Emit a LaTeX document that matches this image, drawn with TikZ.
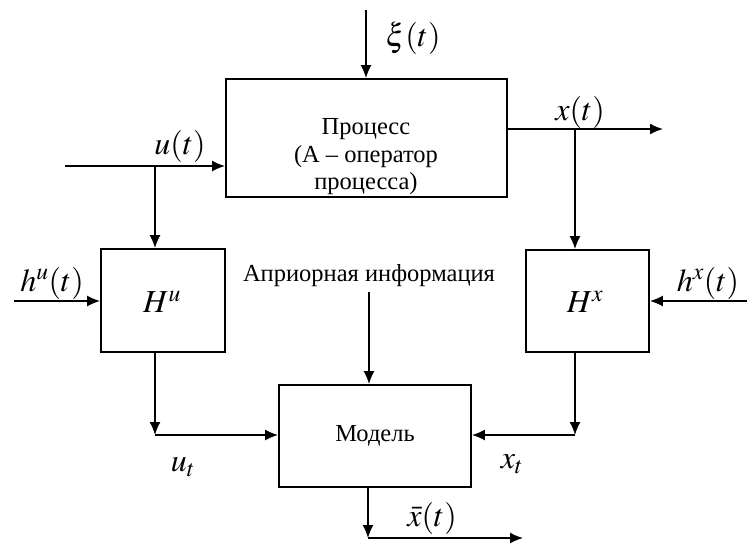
\documentclass[tikz,border=0pt]{standalone}
\usepackage{mathptmx}
\usepackage[no-math]{fontspec}
\setmainfont{Liberation Serif}
\usetikzlibrary{arrows.meta}
\begin{document}
\begin{tikzpicture}[x=1pt,y=-1pt,
  blk/.style={draw,line width=1.8pt,inner sep=0pt},
  conn/.style={line width=1.6pt,-{Latex[length=13pt,width=11pt]}},
  wire/.style={line width=1.6pt},
  txt/.style={font=\fontsize{24.5}{27.5}\selectfont,inner sep=0pt,align=center},
  lbl/.style={font=\fontsize{32}{36}\selectfont,inner sep=0pt}]
\useasboundingbox (0,0) rectangle (747,547);
\fill[white] (0,0) rectangle (747,547);
% blocks
\node[blk,minimum width=281pt,minimum height=118pt] (proc) at (366.5,138) {};
\node[txt] (proctxt) at (366,157) {Процесс\\(А – оператор\\процесса)};
\node[blk,minimum width=124pt,minimum height=103pt] (Hu) at (163,300.5) {};
\node[lbl] (Hutxt) at (162,302) {$H^{u}$};
\node[blk,minimum width=123pt,minimum height=102pt] (Hx) at (587.5,301) {};
\node[lbl] (Hxtxt) at (585,302) {$H^{x}$};
\node[blk,minimum width=192pt,minimum height=102pt] (model) at (375,436) {};
\node[txt] (modeltxt) at (375,436) {Модель};
\node[txt] (apr) at (369,276) {Априорная информация};
% coordinates
\coordinate (xis) at (366,10);
\coordinate (uin) at (65,166);
\coordinate (ub) at (155,166);
\coordinate (xb) at (575,129);
\coordinate (xout) at (663,129);
\coordinate (hus) at (14,301);
\coordinate (hxs) at (747,301);
\coordinate (aprs) at (369,292);
\coordinate (uc) at (155,435);
\coordinate (xc) at (575,435);
\coordinate (bc) at (368,538);
\coordinate (bout) at (523,538);
% connectors
\draw[conn] (xis) -- (xis |- proc.north);
\draw[conn] (uin) -- (uin -| proc.west);
\draw[conn] (ub) -- (ub |- Hu.north);
\draw[wire] (xb -| proc.east) -- (xb);
\draw[conn] (xb) -- (xout);
\draw[conn] (xb) -- (xb |- Hx.north);
\draw[conn] (hus) -- (hus -| Hu.west);
\draw[conn] (hxs) -- (hxs -| Hx.east);
\draw[conn] (aprs) -- (aprs |- model.north);
\draw[conn] (uc |- Hu.south) -- (uc);
\draw[conn] (uc) -- (uc -| model.west);
\draw[conn] (xc |- Hx.south) -- (xc);
\draw[conn] (xc) -- (xc -| model.east);
\draw[conn] (bc |- model.south) -- (bc);
\draw[conn] (bc) -- (bout);
% labels
\node[lbl] (xil) at (413,38) {$\xi(t)$};
\node[lbl] (ul) at (180,146) {$u(t)$};
\node[lbl] (xl) at (580,112) {$x(t)$};
\node[lbl] (hul) at (52,283) {$h^{u}(t)$};
\node[lbl] (hxl) at (708,283) {$h^{x}(t)$};
\node[lbl] (utl) at (183,467) {$u_{t}$};
\node[lbl] (xtl) at (512,464) {$x_{t}$};
\node[lbl] (xbl) at (432,518) {$\bar{x}(t)$};
\end{tikzpicture}
\end{document}
